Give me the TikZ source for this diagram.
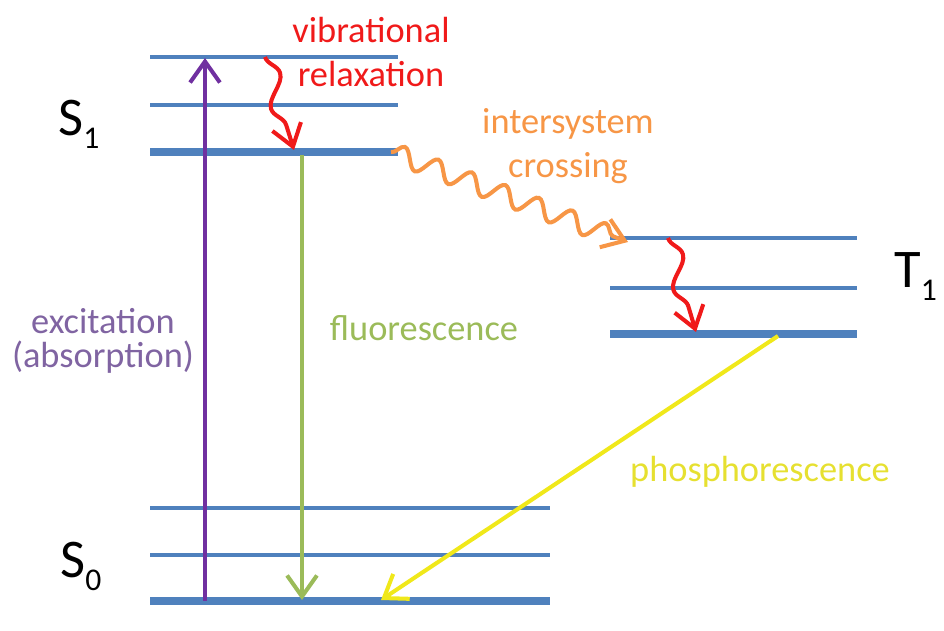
\documentclass[tikz,border=0pt]{standalone}
\usepackage{fontspec}
\setmainfont{Carlito}
\usetikzlibrary{arrows.meta, decorations.pathmorphing}
\definecolor{lvlblue}{HTML}{4F81BD}
\definecolor{abspurple}{HTML}{7030A0}
\definecolor{txtpurple}{HTML}{8064A2}
\definecolor{flgreen}{HTML}{9BBB59}
\definecolor{vibred}{HTML}{F01A1A}
\definecolor{iscorange}{HTML}{F79646}
\definecolor{phyellow}{HTML}{F0E81A}
\definecolor{txtyellow}{HTML}{E6E030}
% state name with a lowered index
\newcommand{\statename}[2]{#1\raisebox{-7.4pt}{\fontsize{18}{18}\selectfont #2}}
\tikzset{
  vib/.style={draw=lvlblue, line width=2.3pt}, % upper vibrational levels
  zero/.style={vib, line width=4.4pt}, % lowest level of each state
  trans/.style={line width=2.3pt, -{Straight Barb[length=12pt,width=17pt]}}, % radiative transitions
  wavy/.style={trans, decorate, % non-radiative transitions
    decoration={snake, amplitude=5.5pt, segment length=36pt, post length=10pt}},
  txt/.style={font=\fontsize{20.7}{25}\selectfont, align=center}, % process names
  state/.style={font=\fontsize{31}{31}\selectfont, inner sep=0pt, anchor=base west},
}
\begin{document}
\begin{tikzpicture}[x=0.02cm, y=-0.02cm]
  \useasboundingbox (0,0) rectangle (944,631);

  % levels of S1, T1 and S0
  \foreach \y in {57,105} \draw[vib] (150,\y) -- (398,\y);
  \draw[zero] (150,152) -- (398,152);
  \foreach \y in {238,288} \draw[vib] (610,\y) -- (857,\y);
  \draw[zero] (610,334) -- (857,334);
  \foreach \y in {508,555} \draw[vib] (150,\y) -- (550,\y);
  \draw[zero] (150,601) -- (550,601);

  \node[state] (S1) at (58,136) {\statename{S}{1}};
  \node[state] (T1) at (894,288) {\statename{T}{1}};
  \node[state] (S0) at (60,578) {\statename{S}{0}};

  % end points of the transitions
  \coordinate (abs0) at (205,601);
  \coordinate (abs1) at (205,58);
  \coordinate (fl1) at (302,155);
  \coordinate (fl0) at (302,600);
  \coordinate (vr1top) at (265,57);
  \coordinate (vr1bot) at (294,150);
  \coordinate (iscS) at (391,152);
  \coordinate (iscT) at (628,242);
  \coordinate (vr2top) at (668,238);
  \coordinate (vr2bot) at (696,332);
  \coordinate (ph1) at (778,336);
  \coordinate (ph0) at (381,600);

  \draw[trans, abspurple] (abs0) -- (abs1);
  \draw[trans, flgreen] (fl1) -- (fl0);
  \draw[trans, phyellow] (ph1) -- (ph0);
  \draw[wavy, vibred] (vr1top) -- (vr1bot);
  \draw[wavy, vibred] (vr2top) -- (vr2bot);
  \draw[wavy, iscorange, decoration={segment length=20.4pt, amplitude=5.5pt, post length=8pt}] (iscS) -- (iscT);

  \node[txt, vibred] (vibtxt) at (371,52) {vibrational\\relaxation};
  \node[txt, iscorange] (isctxt) at (568,146) {intersystem\\crossing};
  \node[txt, txtpurple, font=\fontsize{20.7}{19.5}\selectfont] (abstxt) at (103,341) {excitation\\(absorption)};
  \node[txt, flgreen, anchor=base] (fltxt) at (424,341) {fluorescence};
  \node[txt, txtyellow, anchor=base] (phtxt) at (760,482) {phosphorescence};
\end{tikzpicture}
\end{document}
